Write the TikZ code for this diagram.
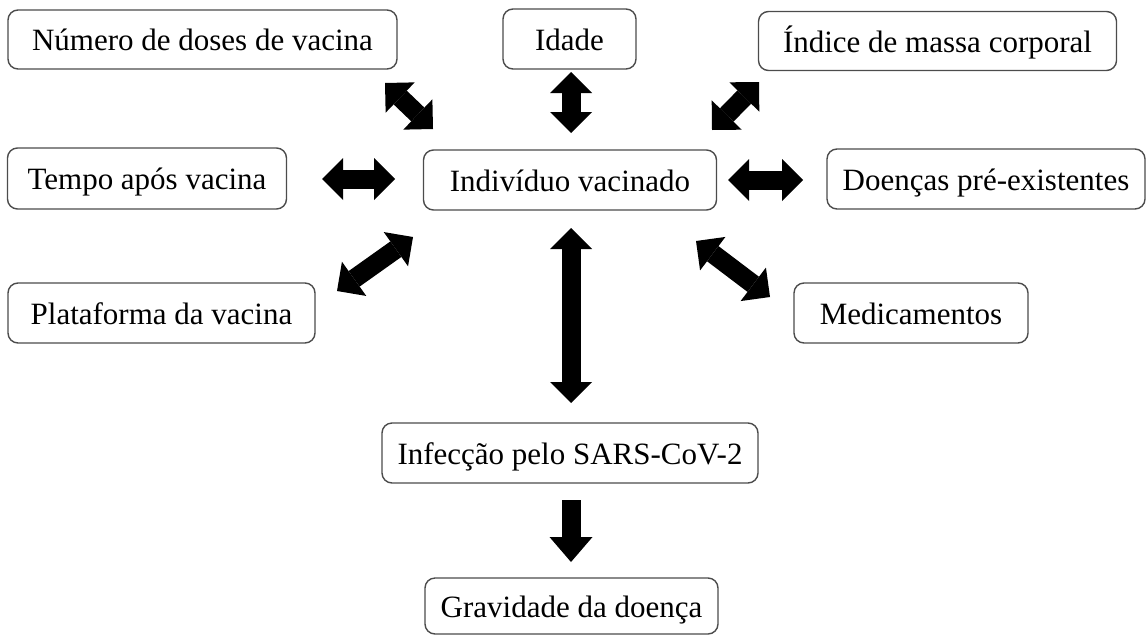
\documentclass[tikz,border=0pt]{standalone}
\usepackage{fontspec}
\setmainfont{Liberation Serif}
\usetikzlibrary{arrows.meta}
\begin{document}
\begin{tikzpicture}[x=1pt,y=-1pt,
  box/.style={draw=black!70, line width=1.4pt, rounded corners=10pt, fill=white,
    inner sep=0pt, align=center, text height=28pt, text depth=6pt,
    font=\fontsize{31}{37}\selectfont},
  fat/.style={line width=19pt, {Triangle[length=21pt,width=42pt,line width=0pt]}-{Triangle[length=21pt,width=42pt,line width=0pt]}},
  fatdown/.style={line width=19pt, -{Triangle[length=25pt,width=43pt,line width=0pt]}}
]
\useasboundingbox (0,0) rectangle (1147,635);
% nodes
\node[box, minimum width=389pt, minimum height=59pt] (doses) at (202.5,39.5) {Número de doses de vacina};
\node[box, minimum width=133pt, minimum height=60pt] (idade) at (569.5,39) {Idade};
\node[box, minimum width=358pt, minimum height=59pt] (imc) at (937.5,41) {Índice de massa corporal};
\node[box, minimum width=279pt, minimum height=61pt] (tempo) at (147,178.5) {Tempo após vacina};
\node[box, minimum width=293pt, minimum height=60pt] (indiv) at (570,180) {Indivíduo vacinado};
\node[box, minimum width=318pt, minimum height=60pt] (doencas) at (986,179) {Doenças pré-existentes};
\node[box, minimum width=307pt, minimum height=60pt] (plat) at (161.5,313) {Plataforma da vacina};
\node[box, minimum width=234pt, minimum height=60pt] (medic) at (911,313) {Medicamentos};
\node[box, minimum width=376pt, minimum height=60pt] (infec) at (570,453) {Infecção pelo SARS-CoV-2};
\node[box, minimum width=293pt, minimum height=56pt] (grav) at (571.5,606) {Gravidade da doença};
% arrow end points
\coordinate (d1) at (385,83);   \coordinate (d2) at (433,129);
\coordinate (i1) at (571,72);   \coordinate (i2) at (571,133);
\coordinate (m1) at (759,82);   \coordinate (m2) at (712,130);
\coordinate (t1) at (322,179);  \coordinate (t2) at (395,179);
\coordinate (p1) at (803,180);  \coordinate (p2) at (728,180);
\coordinate (l1) at (337,291);  \coordinate (l2) at (413,237);
\coordinate (r1) at (770,297);  \coordinate (r2) at (696,241);
\coordinate (c1) at (571,228);  \coordinate (c2) at (571,403);
\coordinate (g1) at (571,500);  \coordinate (g2) at (571,562);
% arrows
\draw[fat] (d1) -- (d2);
\draw[fat] (i1) -- (i2);
\draw[fat] (m1) -- (m2);
\draw[fat] (t1) -- (t2);
\draw[fat] (p1) -- (p2);
\draw[fat] (l1) -- (l2);
\draw[fat] (r1) -- (r2);
\draw[fat] (c1) -- (c2);
\draw[fatdown] (g1) -- (g2);
\end{tikzpicture}
\end{document}
